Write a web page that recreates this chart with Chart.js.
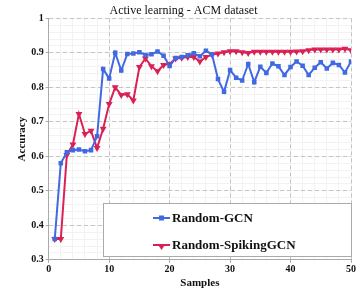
<!DOCTYPE html>
<html>
<head>
<meta charset="utf-8">
<script src="https://cdn.jsdelivr.net/npm/chart.js@4/dist/chart.umd.min.js"></script>
<style>
  html, body { margin: 0; padding: 0; background: #fff; }
  canvas { display: block; }
</style>
</head>
<body>
<canvas id="chart" width="361" height="291"></canvas>
<script>
// values
const samples = Array.from({ length: 50 }, (_, i) => i + 1);

const gcn = [
  0.36, 0.58, 0.612, 0.618, 0.62, 0.615, 0.618, 0.658, 0.853, 0.826,
  0.90, 0.849, 0.897, 0.898, 0.902, 0.894, 0.896, 0.904, 0.892, 0.862,
  0.885, 0.888, 0.893, 0.899, 0.89, 0.906, 0.896, 0.824, 0.787, 0.85,
  0.828, 0.82, 0.868, 0.815, 0.86, 0.842, 0.869, 0.861, 0.836, 0.859,
  0.875, 0.863, 0.836, 0.857, 0.873, 0.855, 0.871, 0.865, 0.843, 0.875
];

const spiking = [
  0.36, 0.36, 0.604, 0.634, 0.723, 0.665, 0.674, 0.624, 0.68, 0.752,
  0.80, 0.778, 0.78, 0.762, 0.859, 0.884, 0.861, 0.847, 0.865, 0.868,
  0.884, 0.886, 0.888, 0.888, 0.875, 0.888, 0.895, 0.898, 0.902, 0.905,
  0.905, 0.902, 0.90, 0.903, 0.903, 0.903, 0.903, 0.903, 0.903, 0.903,
  0.904, 0.905, 0.908, 0.91, 0.91, 0.91, 0.91, 0.91, 0.912, 0.908
];

const xTicks = [0, 10, 20, 30, 40, 50];
const yTicks = [0.3, 0.4, 0.5, 0.6, 0.7, 0.8, 0.9, 1];

const BLUE = '#4169e1';
const RED = '#da2155';
const serif = '"Liberation Serif", "Times New Roman", serif';

// legend drawn inside the plot, over the grid
const boxLegend = {
  id: 'boxLegend',
  afterDatasetsDraw(chart) {
    const ctx = chart.ctx;
    ctx.save();
    ctx.fillStyle = '#fff';
    ctx.strokeStyle = '#aaa';
    ctx.lineWidth = 1;
    ctx.fillRect(103, 203, 249, 54);
    ctx.strokeRect(103.5, 203.5, 248, 53);
    const items = chart.data.datasets;
    items.forEach((ds, i) => {
      const y = 218 + i * 27;
      ctx.strokeStyle = ds.borderColor;
      ctx.lineWidth = 2;
      ctx.beginPath();
      ctx.moveTo(153, y);
      ctx.lineTo(170, y);
      ctx.stroke();
      ctx.fillStyle = ds.borderColor;
      if (i === 0) {
        ctx.fillRect(159, y - 2.5, 5, 5);
      } else {
        ctx.beginPath();
        ctx.moveTo(157.5, y - 1);
        ctx.lineTo(165.5, y - 1);
        ctx.lineTo(161.5, y + 5);
        ctx.closePath();
        ctx.fill();
      }
      ctx.fillStyle = '#111';
      ctx.font = 'bold 13px ' + serif;
      ctx.textBaseline = 'middle';
      ctx.fillText(ds.label, 172, y + 1);
    });
    ctx.restore();
  }
};

new Chart(document.getElementById('chart'), {
  type: 'line',
  data: {
    labels: samples,
    datasets: [
      {
        label: 'Random-GCN',
        data: samples.map((x, i) => ({ x: x, y: gcn[i] })),
        borderColor: BLUE,
        backgroundColor: BLUE,
        borderWidth: 2,
        pointStyle: 'rect',
        pointRadius: 3.2,
        pointBorderWidth: 0,
        tension: 0
      },
      {
        label: 'Random-SpikingGCN',
        data: samples.map((x, i) => ({ x: x, y: spiking[i] })),
        borderColor: RED,
        backgroundColor: RED,
        borderWidth: 2,
        pointStyle: 'triangle',
        rotation: 180,
        pointRadius: 4,
        pointBorderWidth: 0,
        tension: 0
      }
    ]
  },
  options: {
    responsive: false,
    animation: false,
    layout: { padding: { top: 0, right: 10, left: 16, bottom: 0 } },
    plugins: {
      legend: { display: false },
      tooltip: { enabled: false },
      title: {
        display: true,
        text: 'Active learning - ACM dataset',
        color: '#111',
        font: { family: serif, size: 12, weight: 'normal' },
        padding: { top: 4, bottom: 0 }
      }
    },
    scales: {
      xMinor: {
        type: 'linear', position: 'bottom', min: 0, max: 50,
        ticks: { display: false, stepSize: 2 },
        grid: { color: '#f2f2f2', drawTicks: false },
        border: { display: true, color: '#aaa' }
      },
      yMinor: {
        type: 'linear', position: 'left', min: 0.3, max: 1,
        ticks: { display: false, stepSize: 0.02 },
        grid: { color: '#f2f2f2', drawTicks: false },
        border: { display: true, color: '#aaa' }
      },
      x: {
        type: 'linear', min: 0, max: 50,
        afterBuildTicks: (s) => { s.ticks = xTicks.map(v => ({ value: v })); },
        ticks: { color: '#111', font: { family: serif, size: 10, weight: 'bold' }, padding: 1, maxRotation: 0 },
        grid: { color: '#c4c4c4', tickLength: 3, tickColor: '#aaa' },
        border: { display: false, dash: [4, 3] },
        title: { display: true, text: 'Samples', color: '#111', font: { family: serif, size: 11, weight: 'bold' }, padding: { top: 0, bottom: 1 } }
      },
      y: {
        type: 'linear', min: 0.3, max: 1,
        afterBuildTicks: (s) => { s.ticks = yTicks.map(v => ({ value: v })); },
        ticks: { color: '#111', font: { family: serif, size: 10, weight: 'bold' }, padding: 2, callback: v => String(Math.round(v * 10) / 10) },
        grid: { color: '#c4c4c4', tickLength: 3, tickColor: '#aaa' },
        border: { display: false, dash: [4, 3] },
        title: { display: true, text: 'Accuracy', color: '#111', font: { family: serif, size: 11, weight: 'bold' }, padding: { top: 0, bottom: 0 } }
      }
    }
  },
  plugins: [boxLegend]
});
</script>
</body>
</html>
